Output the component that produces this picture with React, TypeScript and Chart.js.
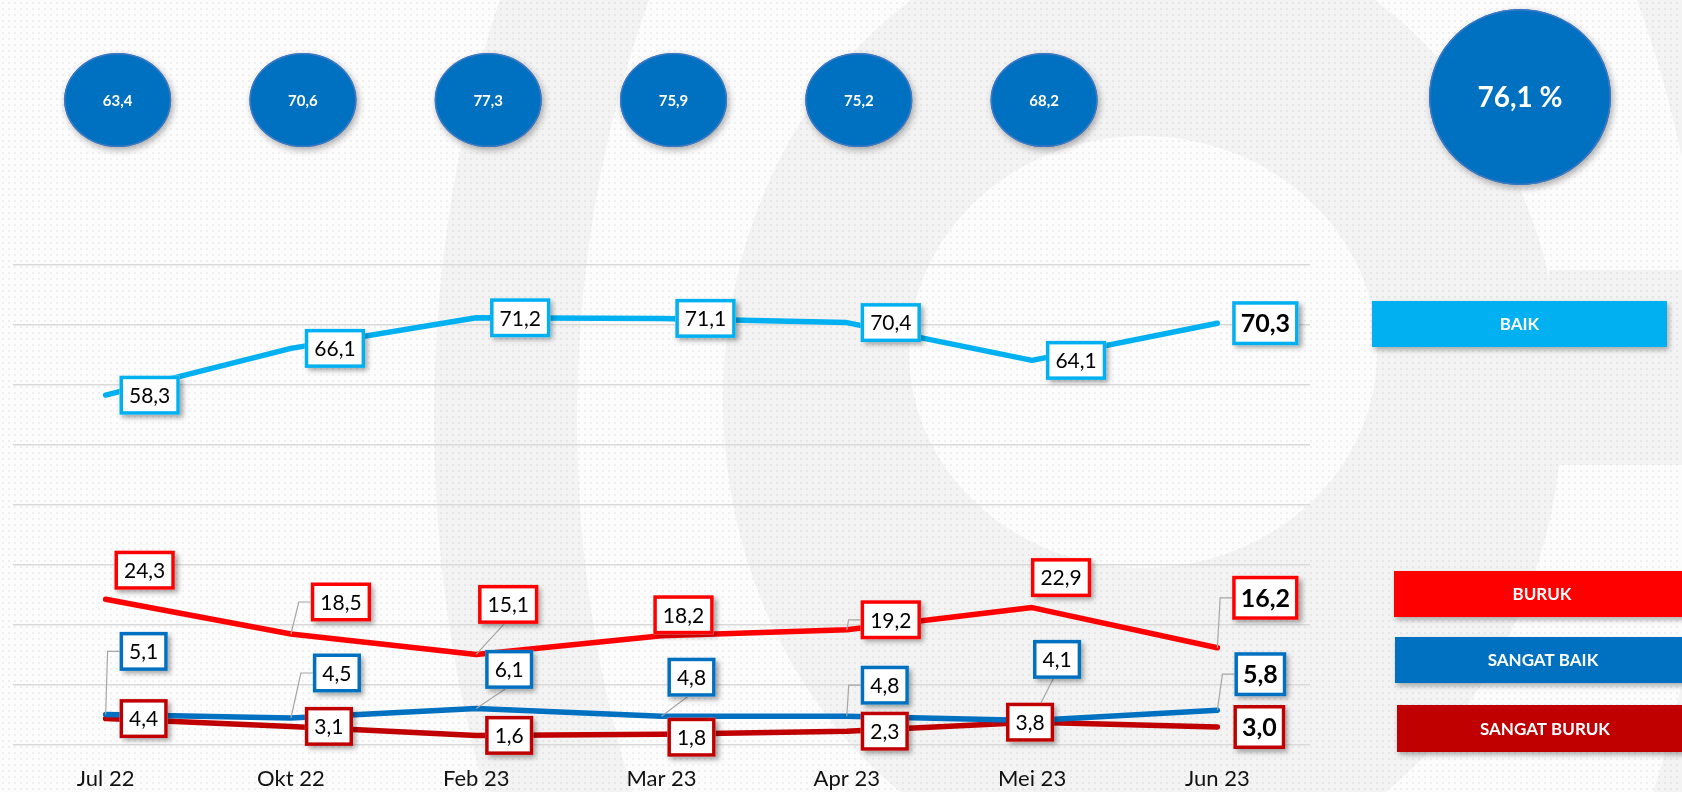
import React, { useEffect, useRef } from 'react';
import { Chart, registerables } from 'chart.js';

Chart.register(...registerables);

// ---------- DATA ----------
const categories = ['Jul 22', 'Okt 22', 'Feb 23', 'Mar 23', 'Apr 23', 'Mei 23', 'Jun 23'];
const baik = [58.3, 66.1, 71.2, 71.1, 70.4, 64.1, 70.3];
const buruk = [24.3, 18.5, 15.1, 18.2, 19.2, 22.9, 16.2];
const sangatBaik = [5.1, 4.5, 6.1, 4.8, 4.8, 4.1, 5.8];
const sangatBuruk = [4.4, 3.1, 1.6, 1.8, 2.3, 3.8, 3.0];
const indexValues = [63.4, 70.6, 77.3, 75.9, 75.2, 68.2];
const overallIndex = 76.1;
const yMin = 0;
const yMax = 80;
const yStep = 10;

// ---------- LABEL PLACEMENT (offset of label box centre from point, leader style) ----------
type Place = [number, number, string];
const baikPlace: Place[] = [[44, 0, ''], [44, 0, ''], [44, 0, ''], [44, 0, ''], [44, 0, ''], [44, 0, ''], [48, 0, '']];
const burukPlace: Place[] = [[39, -29, ''], [50, -32, 'L'], [32, -50, 'B'], [22, -21, ''], [44, -10, 'L'], [29, -30, ''], [48, -50, 'L']];
const sangatBaikPlace: Place[] = [[38, -63, 'L'], [46, -45, 'L'], [33, -39, 'B'], [30, -39, 'B'], [38, -31, 'L'], [25, -61, 'B'], [43, -36, 'L']];
const sangatBurukPlace: Place[] = [[38, 0, ''], [38, 0, ''], [33, 0, ''], [30, 3, ''], [38, 0, ''], [-2, 0, ''], [42, 0, '']];

const COLORS = {
  baik: '#00B0F0',
  buruk: '#FF0000',
  sangatBaik: '#0070C0',
  sangatBuruk: '#C00000',
};

const FONT = 'Lato, "Open Sans", "DejaVu Sans", sans-serif';

const fmt = (v: number) => v.toFixed(1).replace('.', ',');

// ---------- PLUGINS ----------
const backgroundPlugin = {
  id: 'bgDeco',
  beforeDraw(chart: any) {
    const ctx: CanvasRenderingContext2D = chart.ctx;
    const W = chart.width;
    const H = chart.height;
    const GRAY = '#F3F3F3';
    const WHITE = '#FCFCFC';
    ctx.save();
    ctx.fillStyle = WHITE;
    ctx.fillRect(0, 0, W, H);
    // faint watermark logo: outer ring
    ctx.fillStyle = GRAY;
    ctx.beginPath();
    ctx.ellipse(1143, 420, 709, 1000, 0, 0, Math.PI * 2);
    ctx.fill();
    ctx.fillStyle = WHITE;
    ctx.beginPath();
    ctx.ellipse(1143, 420, 566, 860, 0, 0, Math.PI * 2);
    ctx.fill();
    // inner ring
    ctx.fillStyle = GRAY;
    ctx.beginPath();
    ctx.ellipse(1143, 400, 420, 480, 0, 0, Math.PI * 2);
    ctx.fill();
    ctx.fillRect(1549, 270, 140, 195);
    ctx.fillStyle = WHITE;
    ctx.beginPath();
    ctx.ellipse(1143, 352, 234, 216, 0, 0, Math.PI * 2);
    ctx.fill();
    // dot pattern
    const off = document.createElement('canvas');
    off.width = 6;
    off.height = 6;
    const octx = off.getContext('2d')!;
    octx.fillStyle = 'rgba(0,0,0,0.075)';
    octx.beginPath();
    octx.arc(3, 3, 0.95, 0, Math.PI * 2);
    octx.fill();
    const pat = ctx.createPattern(off, 'repeat');
    if (pat) {
      ctx.fillStyle = pat;
      ctx.fillRect(0, 0, W, H);
    }
    ctx.restore();
  },
};

const valueLabelsPlugin = {
  id: 'valueLabels',
  afterDatasetsDraw(chart: any) {
    const ctx: CanvasRenderingContext2D = chart.ctx;
    const boxes: any[] = [];
    chart.data.datasets.forEach((ds: any, di: number) => {
      const meta = chart.getDatasetMeta(di);
      meta.data.forEach((pt: any, i: number) => {
        const v = ds.data[i];
        const last = i === ds.data.length - 1;
        const text = fmt(v);
        const fontSize = last ? 25 : 21;
        const font = `${last ? 'bold ' : ''}${fontSize}px ${FONT}`;
        ctx.font = font;
        const tw = ctx.measureText(text).width;
        const w = tw + (last ? 17 : 19);
        const h = last ? 44 : 39;
        const [dx, dy, leader] = ds.labelPlace[i];
        const cx = pt.x + dx;
        const cy = pt.y + dy;
        boxes.push({ cx, cy, w, h, text, font, color: ds.borderColor, leader, px: pt.x, py: pt.y });
      });
    });
    ctx.save();
    // leaders
    ctx.strokeStyle = '#A6A6A6';
    ctx.lineWidth = 1.2;
    boxes.forEach((b) => {
      if (!b.leader) return;
      const left = b.cx - b.w / 2;
      const bottom = b.cy + b.h / 2;
      ctx.beginPath();
      ctx.moveTo(b.px, b.py);
      if (b.leader === 'L') {
        const ex = Math.max(b.px + 1, left - 12);
        ctx.lineTo(ex, b.cy);
        ctx.lineTo(left, b.cy);
      } else {
        ctx.lineTo(b.cx - 4, bottom);
      }
      ctx.stroke();
    });
    // boxes
    boxes.forEach((b) => {
      const left = b.cx - b.w / 2;
      const top = b.cy - b.h / 2;
      ctx.save();
      ctx.shadowColor = 'rgba(0,0,0,0.35)';
      ctx.shadowBlur = 5;
      ctx.shadowOffsetX = 3;
      ctx.shadowOffsetY = 3;
      ctx.fillStyle = '#FFFFFF';
      ctx.fillRect(left, top, b.w, b.h);
      ctx.restore();
      ctx.strokeStyle = b.color;
      ctx.lineWidth = 3.5;
      ctx.strokeRect(left + 1.75, top + 1.75, b.w - 3.5, b.h - 3.5);
      ctx.fillStyle = '#000000';
      ctx.font = b.font;
      ctx.textAlign = 'center';
      ctx.textBaseline = 'middle';
      ctx.fillText(b.text, b.cx, b.cy + 1);
    });
    ctx.restore();
  },
};

const decorPlugin = {
  id: 'decor',
  afterDraw(chart: any) {
    const ctx: CanvasRenderingContext2D = chart.ctx;
    const xs = chart.scales.x;
    const drawBubble = (cx: number, cy: number, rx: number, ry: number, text: string, size: number) => {
      ctx.save();
      ctx.shadowColor = 'rgba(0,0,0,0.32)';
      ctx.shadowBlur = 7;
      ctx.shadowOffsetX = 2;
      ctx.shadowOffsetY = 3;
      ctx.fillStyle = '#0070C0';
      ctx.beginPath();
      ctx.ellipse(cx, cy, rx, ry, 0, 0, Math.PI * 2);
      ctx.fill();
      ctx.restore();
      ctx.save();
      ctx.strokeStyle = '#3D78C4';
      ctx.lineWidth = 1.5;
      ctx.beginPath();
      ctx.ellipse(cx, cy, rx - 0.75, ry - 0.75, 0, 0, Math.PI * 2);
      ctx.stroke();
      ctx.fillStyle = '#FFFFFF';
      ctx.font = `bold ${size}px ${FONT}`;
      ctx.textAlign = 'center';
      ctx.textBaseline = 'middle';
      ctx.fillText(text, cx, cy + 1);
      ctx.restore();
    };
    indexValues.forEach((v, i) => {
      const x = xs.getPixelForValue(i) + 12;
      drawBubble(x, 100, 53.5, 47, fmt(v), 15);
    });
    drawBubble(1520, 97, 91, 88, fmt(overallIndex) + ' %', 28);

    // legend boxes
    const legendRects: Record<string, [number, number, number, number]> = {
      BAIK: [1372, 301, 295, 46],
      BURUK: [1394, 571, 296, 46],
      'SANGAT BAIK': [1395, 637, 296, 46],
      'SANGAT BURUK': [1397, 705, 296, 47],
    };
    chart.data.datasets.forEach((ds: any) => {
      const r = legendRects[ds.label];
      if (!r) return;
      ctx.save();
      ctx.shadowColor = 'rgba(0,0,0,0.3)';
      ctx.shadowBlur = 5;
      ctx.shadowOffsetX = 2;
      ctx.shadowOffsetY = 3;
      ctx.fillStyle = ds.borderColor;
      ctx.fillRect(r[0], r[1], r[2], r[3]);
      ctx.restore();
      ctx.save();
      ctx.fillStyle = '#FFFFFF';
      ctx.font = `bold 17px ${FONT}`;
      ctx.textAlign = 'center';
      ctx.textBaseline = 'middle';
      ctx.fillText(ds.label, r[0] + r[2] / 2, r[1] + r[3] / 2 + 1);
      ctx.restore();
    });
  },
};

export default function App() {
  const canvasRef = useRef<HTMLCanvasElement | null>(null);

  useEffect(() => {
    if (!canvasRef.current) return;
    const mk = (label: string, data: number[], color: string, place: Place[]) => ({
      label,
      data,
      borderColor: color,
      backgroundColor: color,
      borderWidth: 5.5,
      pointRadius: 0,
      pointHoverRadius: 0,
      tension: 0,
      fill: false,
      borderCapStyle: 'round',
      borderJoinStyle: 'round',
      labelPlace: place,
    });
    const chart = new Chart(canvasRef.current, {
      type: 'line',
      data: {
        labels: categories,
        datasets: [
          mk('BAIK', baik, COLORS.baik, baikPlace),
          mk('BURUK', buruk, COLORS.buruk, burukPlace),
          mk('SANGAT BAIK', sangatBaik, COLORS.sangatBaik, sangatBaikPlace),
          mk('SANGAT BURUK', sangatBuruk, COLORS.sangatBuruk, sangatBurukPlace),
        ] as any,
      },
      options: {
        responsive: false,
        animation: false,
        devicePixelRatio: 1,
        layout: { padding: { left: 13, right: 372, top: 265, bottom: 0 } },
        plugins: {
          legend: { display: false },
          tooltip: { enabled: false },
        },
        scales: {
          x: {
            type: 'category',
            offset: true,
            grid: { display: false, drawTicks: false },
            border: { display: false },
            ticks: {
              color: '#111111',
              font: { family: FONT, size: 22 },
              padding: 20.6,
              maxRotation: 0,
              autoSkip: false,
            },
            afterFit(scale: any) {
              scale.height = 47;
            },
          },
          y: {
            min: yMin,
            max: yMax,
            ticks: { stepSize: yStep, display: false },
            grid: { color: '#D9D9D9', lineWidth: 1.6, drawTicks: false },
            border: { display: false },
          },
        },
      } as any,
      plugins: [backgroundPlugin, valueLabelsPlugin, decorPlugin],
    });
    return () => chart.destroy();
  }, []);

  return (
    <div style={{ position: 'fixed', left: 0, top: 0, width: 1682, height: 792, overflow: 'hidden' }}>
      <canvas ref={canvasRef} width={1682} height={792} style={{ display: 'block' }} />
    </div>
  );
}
